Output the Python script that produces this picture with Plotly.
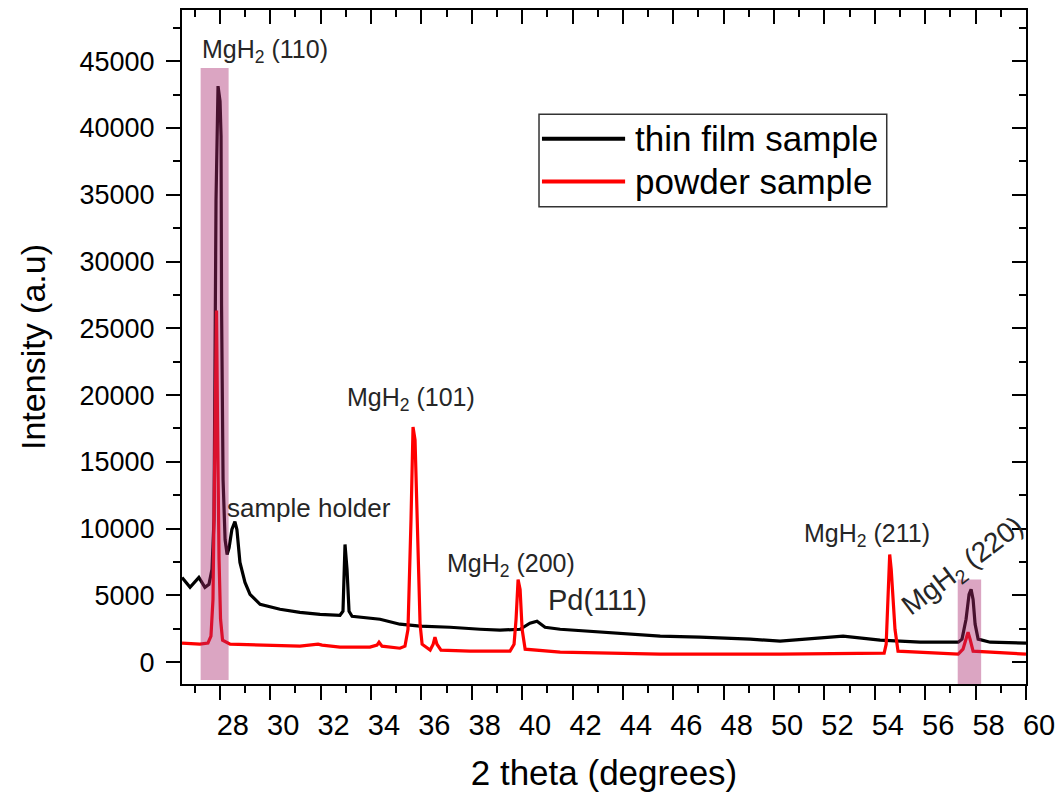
import plotly.graph_objects as go

# XRD patterns: 2-theta (degrees) and intensity (a.u.)
film_two_theta = [
    26.50, 26.82, 27.17, 27.41, 27.57, 27.69, 27.77, 27.85, 27.93, 28.01,
    28.05, 28.07, 28.13, 28.21, 28.29, 28.37, 28.48, 28.60, 28.68, 28.80,
    29.00, 29.20, 29.60, 30.39, 31.18, 31.98, 32.77, 32.89, 32.97, 33.05,
    33.13, 33.25, 34.36, 35.15, 35.95, 37.14, 38.33, 39.12, 39.92, 40.31,
    40.59, 40.91, 41.51, 43.09, 44.68, 45.48, 47.06, 49.05, 50.24, 52.74,
    54.21, 55.80, 57.31, 57.46, 57.62, 57.74, 57.82, 57.90, 57.98, 58.10,
    58.58, 60.00,
]
film_intensity = [
    6340, 5600, 6340, 5600, 5820, 6940, 10670, 34550, 43140, 42020,
    39400, 26720, 13660, 9180, 8060, 8580, 9930, 10520, 9930, 7460,
    5970, 5070, 4330, 3960, 3730, 3580, 3510, 3810, 8810, 6940,
    3810, 3430, 3210, 2840, 2690, 2610, 2460, 2390, 2460, 2910,
    3060, 2610, 2460, 2240, 2010, 1940, 1870, 1720, 1570, 1940,
    1640, 1490, 1490, 1720, 3210, 5070, 5450, 4700, 2840, 1720,
    1490, 1420,
]

powder_two_theta = [
    26.50, 27.21, 27.53, 27.65, 27.73, 27.81, 27.87, 27.91, 27.97, 28.03,
    28.11, 28.41, 29.60, 31.18, 31.90, 32.06, 32.77, 33.96, 34.24, 34.32,
    34.44, 35.15, 35.35, 35.47, 35.59, 35.67, 35.75, 35.79, 35.87, 35.95,
    36.03, 36.35, 36.47, 36.54, 36.62, 36.78, 37.93, 39.52, 39.68, 39.76,
    39.84, 39.92, 40.00, 40.12, 41.51, 43.09, 45.48, 50.24, 54.37, 54.45,
    54.53, 54.59, 54.65, 54.72, 54.80, 54.92, 57.31, 57.50, 57.62, 57.70,
    57.78, 57.90, 60.00,
]
powder_intensity = [
    1420, 1340, 1420, 1940, 4700, 19630, 26340, 18130, 7690, 3210,
    1640, 1340, 1270, 1190, 1340, 1270, 1120, 1120, 1270, 1490,
    1190, 1040, 1190, 2460, 10670, 17610, 16640, 13880, 7690, 2840,
    1340, 900, 1340, 1870, 1340, 900, 820, 820, 1340, 3210,
    6190, 5450, 2460, 970, 750, 670, 600, 600, 670, 1340,
    4700, 8060, 6940, 4480, 2460, 820, 600, 970, 1720, 2240,
    1720, 820, 600,
]

series_names = ["thin film sample", "powder sample"]
series_colors = ["#000000", "#ff0000"]

# highlighted reflections: (x0, x1, y0, y1)
highlight_boxes = [
    (27.24, 28.35, -1343, 44500),
    (57.29, 58.22, -1640, 6194),
]

# peak labels: (text, x, y, anchor, angle, size)
peak_labels = [
    ("MgH<sub>2</sub> (110)", 27.22, 45800, "left", 0, 25),
    ("sample holder", 28.22, 11570, "left", 0, 26),
    ("MgH<sub>2</sub> (101)", 32.98, 19700, "left", 0, 25),
    ("MgH<sub>2</sub> (200)", 36.95, 7300, "left", 0, 25),
    ("Pd(111)", 40.93, 4630, "left", 0, 29),
    ("MgH<sub>2</sub> (211)", 51.10, 9550, "left", 0, 25),
    ("MgH<sub>2</sub> (220)", 57.50, 7090, "center", -37, 28),
]

x_range = [26.5, 60]
y_range = [-1640, 48840]
FONT = "Liberation Sans, Arial, sans-serif"

fig = go.Figure()
fig.add_trace(go.Scatter(x=film_two_theta, y=film_intensity, mode="lines",
                         name=series_names[0], showlegend=False,
                         line=dict(color=series_colors[0], width=3.2)))
fig.add_trace(go.Scatter(x=powder_two_theta, y=powder_intensity, mode="lines",
                         name=series_names[1], showlegend=False,
                         line=dict(color=series_colors[1], width=3.2)))
# empty trace so the mirrored top/right axes (inside ticks) get drawn
fig.add_trace(go.Scatter(x=[], y=[], xaxis="x2", yaxis="y2", mode="lines",
                         showlegend=False, hoverinfo="skip"))

for x0, x1, y0, y1 in highlight_boxes:
    fig.add_shape(type="rect", xref="x", yref="y", x0=x0, x1=x1, y0=y0, y1=y1,
                  fillcolor="rgba(170,40,110,0.42)", line=dict(width=0),
                  layer="above")

for text, x, y, anchor, angle, size in peak_labels:
    fig.add_annotation(x=x, y=y, xref="x", yref="y", text=text, showarrow=False,
                       xanchor=anchor, yanchor="middle", textangle=angle,
                       font=dict(family=FONT, size=size, color="#262626"))

# legend box with long line samples
fig.add_shape(type="rect", xref="paper", yref="paper", x0=0.423, x1=0.835,
              y0=0.708, y1=0.8455, line=dict(color="#333333", width=1.5),
              fillcolor="rgba(0,0,0,0)")
for i, (name, color) in enumerate(zip(series_names, series_colors)):
    ly = 0.809 - i * 0.0635
    fig.add_shape(type="line", xref="paper", yref="paper", x0=0.4265, x1=0.525,
                  y0=ly, y1=ly, line=dict(color=color, width=4))
    fig.add_annotation(x=0.5344, y=ly, xref="paper", yref="paper", text=name,
                       showarrow=False, xanchor="left", yanchor="middle",
                       font=dict(family=FONT, size=35, color="#000000"))

axis_common = dict(showgrid=False, zeroline=False, linecolor="#000000",
                   linewidth=2, tickcolor="#000000", tickwidth=2)

fig.update_layout(
    width=1063, height=794,
    margin=dict(l=182, r=37, t=8, b=109),
    paper_bgcolor="white", plot_bgcolor="white",
    font=dict(family=FONT, color="#000000"),
    xaxis=dict(range=x_range, tick0=28, dtick=2, ticks="outside", ticklen=14,
               showline=True, mirror=True,
               minor=dict(ticks="outside", ticklen=7, dtick=1, tick0=27,
                          tickcolor="#000000", tickwidth=2),
               tickfont=dict(family="Liberation Sans Narrow, Arial Narrow, " + FONT, size=29),
               ticklabelshift=13,
               title=dict(text="2 theta (degrees)", font=dict(size=35), standoff=21),
               **axis_common),
    yaxis=dict(range=y_range, tick0=0, dtick=5000, ticks="outside", ticklen=14,
               showline=True, mirror=True, tickformat="d",
               minor=dict(ticks="outside", ticklen=7, dtick=2500,
                          tickcolor="#000000", tickwidth=2),
               tickfont=dict(size=27), ticklabelstandoff=6,
               title=dict(text="Intensity (a.u)", font=dict(size=34), standoff=24),
               **axis_common),
    xaxis2=dict(range=x_range, overlaying="x", side="top", anchor="y",
                tick0=28, dtick=2, ticks="inside", ticklen=14,
                minor=dict(ticks="inside", ticklen=7, dtick=1, tick0=27,
                           tickcolor="#000000", tickwidth=2),
                showticklabels=False, **axis_common),
    yaxis2=dict(range=y_range, overlaying="y", side="right", anchor="x",
                tick0=0, dtick=5000, ticks="inside", ticklen=14,
                minor=dict(ticks="inside", ticklen=7, dtick=2500,
                           tickcolor="#000000", tickwidth=2),
                showticklabels=False, **axis_common),
)

fig.write_html("out.html")
